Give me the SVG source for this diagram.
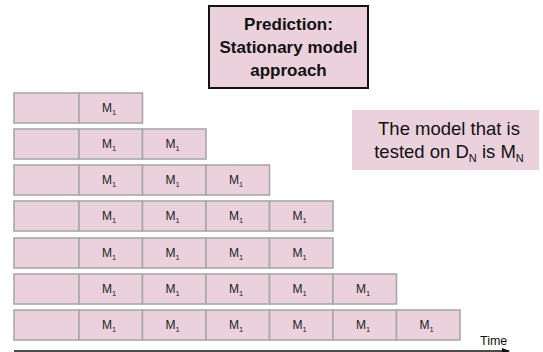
<svg xmlns="http://www.w3.org/2000/svg" width="543" height="352" viewBox="0 0 543 352">
<defs>
<style>
.c{fill:#ead1dc;stroke:#a8a8a8;stroke-width:1.6}
.m{font-family:"Liberation Sans",Arial,sans-serif;font-size:12px;fill:#222}
.s{font-size:7.5px}
.t{font-family:"Liberation Sans",Arial,sans-serif;font-size:17px;font-weight:bold;fill:#111;text-anchor:middle}
.n{font-family:"Liberation Sans",Arial,sans-serif;font-size:18.5px;fill:#111;text-anchor:middle}
</style>
<marker id="ah" markerWidth="8" markerHeight="6" refX="7" refY="3" orient="auto" markerUnits="userSpaceOnUse">
<path d="M0,0 L8,3 L0,6 Z" fill="#111"/>
</marker>
</defs>
<rect width="543" height="352" fill="#fff"/>
<g id="title">
<rect x="209" y="6" width="159" height="82" fill="#ead1dc" stroke="#111" stroke-width="2"/>
<text class="t" x="288.5" y="30">Prediction:</text>
<text class="t" x="288.5" y="53">Stationary model</text>
<text class="t" x="288.5" y="76">approach</text>
</g>
<g id="note">
<rect x="352" y="110" width="187" height="60" fill="#ead1dc"/>
<text class="n" x="449" y="135">The model that is</text>
<text class="n" x="449" y="158">tested on D<tspan font-size="11" dy="4">N</tspan><tspan dy="-4"> is M</tspan><tspan font-size="11" dy="4">N</tspan></text>
</g>
<g id="row1">
<rect class="c" x="14" y="93" width="65" height="30"/>
<rect class="c" x="79" y="93" width="63.5" height="30"/>
<text class="m" x="102" y="112">M<tspan class="s" dy="3">1</tspan></text>
</g>
<g id="row2">
<rect class="c" x="14" y="129" width="65" height="30"/>
<rect class="c" x="79" y="129" width="63.5" height="30"/>
<rect class="c" x="142.5" y="129" width="63.5" height="30"/>
<text class="m" x="102" y="148">M<tspan class="s" dy="3">1</tspan></text>
<text class="m" x="165.5" y="148">M<tspan class="s" dy="3">1</tspan></text>
</g>
<g id="row3">
<rect class="c" x="14" y="165" width="65" height="30"/>
<rect class="c" x="79" y="165" width="63.5" height="30"/>
<rect class="c" x="142.5" y="165" width="63.5" height="30"/>
<rect class="c" x="206" y="165" width="63.5" height="30"/>
<text class="m" x="102" y="184">M<tspan class="s" dy="3">1</tspan></text>
<text class="m" x="165.5" y="184">M<tspan class="s" dy="3">1</tspan></text>
<text class="m" x="229" y="184">M<tspan class="s" dy="3">1</tspan></text>
</g>
<g id="row4">
<rect class="c" x="14" y="201" width="65" height="30"/>
<rect class="c" x="79" y="201" width="63.5" height="30"/>
<rect class="c" x="142.5" y="201" width="63.5" height="30"/>
<rect class="c" x="206" y="201" width="63.5" height="30"/>
<rect class="c" x="269.5" y="201" width="63.5" height="30"/>
<text class="m" x="102" y="220">M<tspan class="s" dy="3">1</tspan></text>
<text class="m" x="165.5" y="220">M<tspan class="s" dy="3">1</tspan></text>
<text class="m" x="229" y="220">M<tspan class="s" dy="3">1</tspan></text>
<text class="m" x="292.5" y="220">M<tspan class="s" dy="3">1</tspan></text>
</g>
<g id="row5">
<rect class="c" x="14" y="238" width="65" height="30"/>
<rect class="c" x="79" y="238" width="63.5" height="30"/>
<rect class="c" x="142.5" y="238" width="63.5" height="30"/>
<rect class="c" x="206" y="238" width="63.5" height="30"/>
<rect class="c" x="269.5" y="238" width="63.5" height="30"/>
<text class="m" x="102" y="257">M<tspan class="s" dy="3">1</tspan></text>
<text class="m" x="165.5" y="257">M<tspan class="s" dy="3">1</tspan></text>
<text class="m" x="229" y="257">M<tspan class="s" dy="3">1</tspan></text>
<text class="m" x="292.5" y="257">M<tspan class="s" dy="3">1</tspan></text>
</g>
<g id="row6">
<rect class="c" x="14" y="274" width="65" height="30"/>
<rect class="c" x="79" y="274" width="63.5" height="30"/>
<rect class="c" x="142.5" y="274" width="63.5" height="30"/>
<rect class="c" x="206" y="274" width="63.5" height="30"/>
<rect class="c" x="269.5" y="274" width="63.5" height="30"/>
<rect class="c" x="333" y="274" width="63.5" height="30"/>
<text class="m" x="102" y="293">M<tspan class="s" dy="3">1</tspan></text>
<text class="m" x="165.5" y="293">M<tspan class="s" dy="3">1</tspan></text>
<text class="m" x="229" y="293">M<tspan class="s" dy="3">1</tspan></text>
<text class="m" x="292.5" y="293">M<tspan class="s" dy="3">1</tspan></text>
<text class="m" x="356" y="293">M<tspan class="s" dy="3">1</tspan></text>
</g>
<g id="row7">
<rect class="c" x="14" y="310" width="65" height="30"/>
<rect class="c" x="79" y="310" width="63.5" height="30"/>
<rect class="c" x="142.5" y="310" width="63.5" height="30"/>
<rect class="c" x="206" y="310" width="63.5" height="30"/>
<rect class="c" x="269.5" y="310" width="63.5" height="30"/>
<rect class="c" x="333" y="310" width="63.5" height="30"/>
<rect class="c" x="396.5" y="310" width="63.5" height="30"/>
<text class="m" x="102" y="329">M<tspan class="s" dy="3">1</tspan></text>
<text class="m" x="165.5" y="329">M<tspan class="s" dy="3">1</tspan></text>
<text class="m" x="229" y="329">M<tspan class="s" dy="3">1</tspan></text>
<text class="m" x="292.5" y="329">M<tspan class="s" dy="3">1</tspan></text>
<text class="m" x="356" y="329">M<tspan class="s" dy="3">1</tspan></text>
<text class="m" x="419.5" y="329">M<tspan class="s" dy="3">1</tspan></text>
</g>
<g id="connectors">
<line x1="14" y1="351" x2="509" y2="351" stroke="#111" stroke-width="1.5" marker-end="url(#ah)"/>
</g>
<text x="480" y="345" font-family="Liberation Sans, Arial, sans-serif" font-size="12.5" fill="#111">Time</text>
</svg>
